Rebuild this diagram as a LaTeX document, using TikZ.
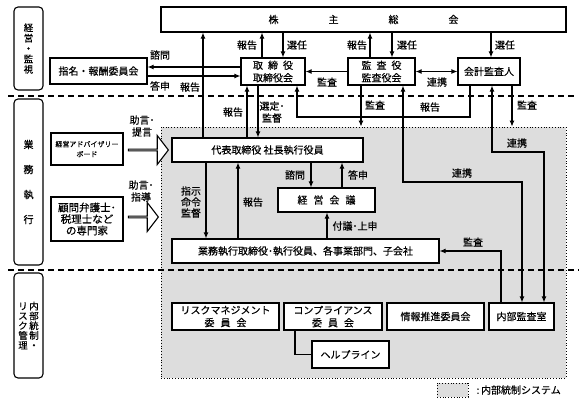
\documentclass[tikz,border=0pt]{standalone}
\usepackage{fontspec}
\setmainfont{Noto Sans CJK JP}[BoldFont={Noto Sans CJK JP}, BoldFeatures={FakeBold=0.4}]
\usetikzlibrary{arrows.meta,positioning,shapes.arrows}
\definecolor{sysgray}{RGB}{221,221,221}

\begin{document}
\begin{tikzpicture}
    [x=1pt, y=-1pt,
      box/.style={draw, line width=1.1pt, fill=white, align=center, inner sep=0pt,
        font={\fontsize{10}{12.5}\selectfont\bfseries\lineskiplimit-50pt}},
      sidebox/.style={draw, line width=1.1pt, rounded corners=4pt, minimum width=29pt,
        align=center, inner sep=0pt, font={\fontsize{9.5}{10.4}\selectfont\bfseries\lineskiplimit-50pt}},
      lbl/.style={align=center, inner sep=0pt,
        font={\fontsize{10}{12}\selectfont\bfseries\lineskiplimit-50pt}},
      arr/.style={line width=1.1pt, -{Latex[length=6pt,width=5pt]}},
      twoway/.style={line width=1.1pt, {Latex[length=6pt,width=5pt]}-{Latex[length=6pt,width=5pt]}},
      fat/.style={single arrow, draw, line width=1.1pt, fill=white, minimum width=29pt,
        single arrow head extend=8pt, single arrow tip angle=105, inner sep=0pt},
      divider/.style={line width=1.3pt, dash pattern=on 6pt off 4pt},
      dotbox/.style={draw, dotted, line width=0.8pt, fill=sysgray, inner sep=0pt}]
    \useasboundingbox (0,0) rectangle (579,405);

    % internal control area
    \node[dotbox, minimum width=405pt, minimum height=251pt] (sys) at (363.5,252.5) {};
    \draw[divider] (8,96) -- (576,96);
    \draw[divider] (8,270) -- (579,270);

    % left column
    \node[sidebox, minimum height=83pt] (side-kanshi) at (28.5,48.5) {経\\営\\・\\監\\視};
    \node[sidebox, minimum height=166pt, font={\fontsize{10}{25}\selectfont\bfseries\lineskiplimit-50pt}]
      (side-shikko) at (28.5,182) {業\\務\\執\\行};
    \node[sidebox, minimum height=105pt, font={\fontsize{9.5}{9.8}\selectfont\bfseries\lineskiplimit-50pt}]
      (side-risk) at (28.5,325.5)
      {リ\hspace{1.5pt}内\\ス\hspace{1.5pt}部\\ク\hspace{1.5pt}統\\管\hspace{1.5pt}制\\理\hspace{1.5pt}・};

    % boxes
    \node[box, minimum width=405pt, minimum height=25pt] (kabu) at (363.5,19.5)
      {株\hspace{50pt}主\hspace{50pt}総\hspace{50pt}会};
    \node[box, minimum width=64pt, minimum height=27pt] (tori) at (273,71.5)
      {取\hspace{5pt}締\hspace{5pt}役\\取締役会};
    \node[box, minimum width=67pt, minimum height=27pt] (kan) at (381.5,71.5)
      {監\hspace{5pt}査\hspace{5pt}役\\監査役会};
    \node[box, minimum width=62pt, minimum height=27pt] (kaikei) at (489,71.5) {会計監査人};
    \node[box, minimum width=97pt, minimum height=26pt] (shimei) at (98.5,71) {指名・報酬委員会};
    \node[box, minimum width=191pt, minimum height=24pt] (daihyo) at (267.5,150)
      {代表取締役 社長執行役員};
    \node[box, minimum width=72pt, minimum height=32pt,
      font={\fontsize{7}{10}\selectfont\bfseries\lineskiplimit-50pt}]
      (advisory) at (87,149) {経営アドバイザリー\\ボード};
    \node[box, minimum width=72pt, minimum height=44pt,
      font={\fontsize{10.5}{11.5}\selectfont\bfseries\lineskiplimit-50pt}]
      (komon) at (87,219) {顧問弁護士･\\税理士など\\の専門家};
    \node[box, minimum width=97pt, minimum height=24pt] (keiei) at (326.5,200)
      {経\hspace{6pt}営\hspace{6pt}会\hspace{6pt}議};
    \node[box, minimum width=267pt, minimum height=24pt] (gyomu) at (305.5,251)
      {業務執行取締役･執行役員、各事業部門、子会社};
    \node[box, minimum width=107pt, minimum height=27pt] (risk) at (225.5,316.5)
      {リスクマネジメント\\委\hspace{6pt}員\hspace{6pt}会};
    \node[box, minimum width=98pt, minimum height=27pt] (comp) at (333,316.5)
      {コンプライアンス\\委\hspace{6pt}員\hspace{6pt}会};
    \node[box, minimum width=97pt, minimum height=27pt] (joho) at (435.5,316.5) {情報推進委員会};
    \node[box, minimum width=65pt, minimum height=27pt] (naibu) at (521.5,316.5) {内部監査室};
    \node[box, minimum width=77pt, minimum height=27pt] (help) at (350.5,354.5) {ヘルプライン};

    % advice arrows
    \node[fat, minimum height=40pt] (fat-advisory) at (148,150) {};
    \node[fat, minimum height=30pt] (fat-komon) at (143,217) {};

    % management / supervision
    \draw[arr] (daihyo.north -| 203,0) -- (kabu.south -| 203,0);
    \draw[arr] (tori.north -| 262,0) -- (kabu.south -| 262,0);
    \draw[arr] (kabu.south -| 283,0) -- (tori.north -| 283,0);
    \draw[arr] (kan.north -| 370,0) -- (kabu.south -| 370,0);
    \draw[arr] (kabu.south -| 392,0) -- (kan.north -| 392,0);
    \draw[arr] (kabu.south -| 491,0) -- (kaikei.north -| 491,0);
    \draw[arr] (tori.west |- 0,67) -- (shimei.east |- 0,67);
    \draw[arr] (shimei.east |- 0,76) -- (tori.west |- 0,76);
    \draw[arr] (kan.west) -- (tori.east);
    \draw[twoway] (kan.east) -- (kaikei.west);
    \draw[arr] (kaikei.south -| 470,0) |- (297,117) -- (tori.south -| 297,0);
    \draw[arr] (kan.south -| 361,0) -- (sys.north -| 361,0);
    \draw[arr] (kaikei.south -| 512,0) -- (sys.north -| 512,0);
    \draw[twoway] (kan.south -| 403,0) |- (522,182) -- (naibu.north -| 522,0);
    \draw[twoway] (kaikei.south -| 492,0) |- (544,152) -- (naibu.north -| 544,0);

    % execution
    \draw[arr] (daihyo.north -| 247,0) -- (tori.south -| 247,0);
    \draw[arr] (tori.south -| 258,0) -- (daihyo.north -| 258,0);
    \draw[arr] (daihyo.south -| 311,0) -- (keiei.north -| 311,0);
    \draw[arr] (keiei.north -| 342,0) -- (daihyo.south -| 342,0);
    \draw[arr] (gyomu.north -| 327,0) -- (keiei.south -| 327,0);
    \draw[arr] (daihyo.south -| 206,0) -- (gyomu.north -| 206,0);
    \draw[arr] (gyomu.north -| 238,0) -- (daihyo.south -| 238,0);
    \draw[arr] (naibu.north -| 501,0) |- (gyomu.east);
    \draw[line width=1.1pt] (comp.south -| 295,0) |- (help.west);

    % labels
    \node[lbl] (l-shimon) at (160,55) {諮問};
    \node[lbl] (l-toshin) at (160,86) {答申};
    \node[lbl] (l-hokoku-kabu) at (190,87) {報告};
    \node[lbl] (l-hokoku-tori) at (247,45) {報告};
    \node[lbl] (l-senin-tori) at (297,45) {選任};
    \node[lbl] (l-hokoku-kan) at (357,45) {報告};
    \node[lbl] (l-senin-kan) at (407,45) {選任};
    \node[lbl] (l-senin-kaikei) at (505,45) {選任};
    \node[lbl] (l-kansa-tori) at (327,82) {監査};
    \node[lbl] (l-renkei) at (437,82) {連携};
    \node[lbl] (l-hokoku-kaikei) at (430,107) {報告};
    \node[lbl] (l-kansa-kan) at (375,105) {監査};
    \node[lbl] (l-kansa-kaikei) at (527,105) {監査};
    \node[lbl] (l-hokoku-daihyo) at (233,112) {報告};
    \node[lbl] (l-sentei) at (272,112) {選定･\\監督};
    \node[lbl] (l-teigen) at (142,126) {助言･\\提言};
    \node[lbl] (l-shido) at (141,191) {助言･\\指導};
    \node[lbl, font={\fontsize{10}{11}\selectfont\bfseries\lineskiplimit-50pt}]
      (l-shiji) at (191,202) {指示\\命令\\監督};
    \node[lbl] (l-hokoku-gyomu) at (253,202) {報告};
    \node[lbl] (l-shimon-keiei) at (295,175) {諮問};
    \node[lbl] (l-toshin-keiei) at (358,175) {答申};
    \node[lbl] (l-fugi) at (355,226) {付議･上申};
    \node[lbl] (l-kansa-naibu) at (473,242) {監査};
    \node[lbl] (l-renkei-kan) at (462,173) {連携};
    \node[lbl] (l-renkei-kaikei) at (517,143) {連携};

    % legend
    \node[dotbox, minimum width=31pt, minimum height=14pt] (legend) at (452.5,390) {};
    \node[lbl, right=8pt of legend] (legend-text) {:\,内部統制システム};
  \end{tikzpicture}
\end{document}
